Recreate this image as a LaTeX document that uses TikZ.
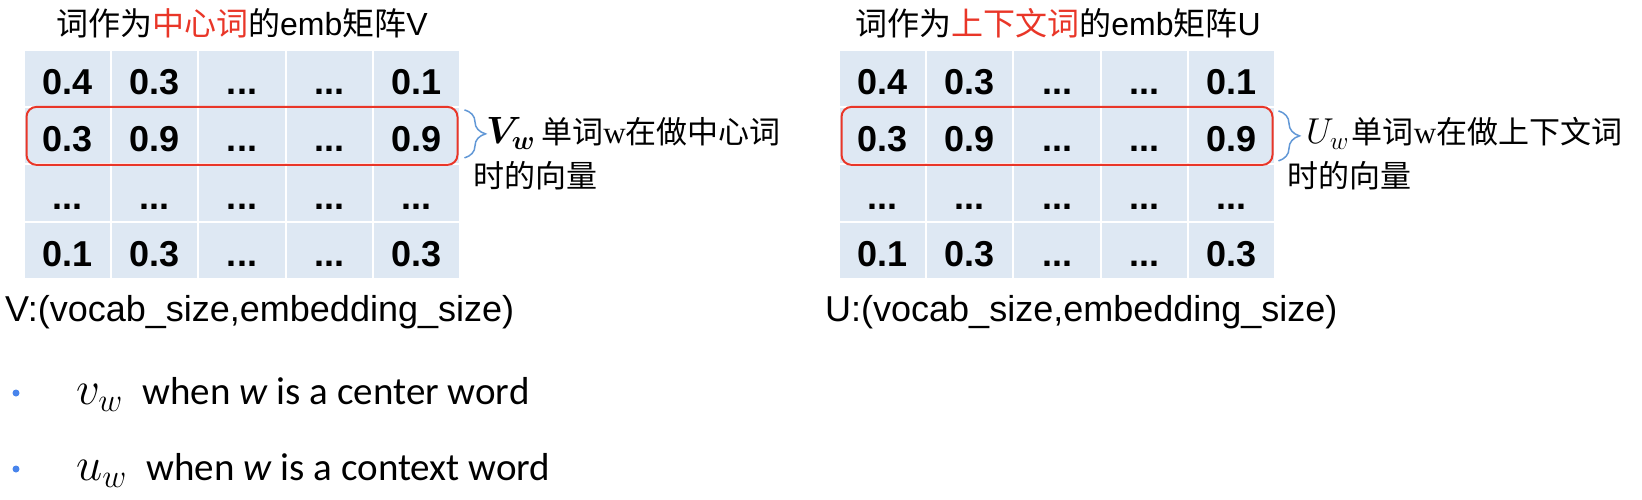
\RequirePackage{fix-cm}
\documentclass[tikz,border=0pt]{standalone}
\usepackage{fontspec}
\usepackage{bm}
\setmainfont{Liberation Sans}
\newfontfamily\cjk{Noto Sans CJK SC}
\newfontfamily\serifw{Liberation Serif}
\newfontfamily\slidefont{Carlito}
\usetikzlibrary{decorations.pathreplacing,positioning}

\definecolor{cellblue}{RGB}{222,232,243}
\definecolor{boxred}{RGB}{233,54,40}
\definecolor{braceblue}{RGB}{98,152,214}
\definecolor{dotblue}{RGB}{72,132,236}

\newcommand{\ellip}{...}
\newcommand{\bigmath}[2]{{\fontsize{#1}{#1}\selectfont$#2$}}

\tikzset{
  cell/.style={fill=cellblue, draw=white, line width=2pt, minimum width=87.2pt, minimum height=57.25pt,
    inner sep=0pt, text height=32pt, text depth=0pt, font=\fontsize{36}{36}\selectfont\bfseries},
  rowbox/.style={draw=boxred, line width=2pt, rounded corners=10pt, minimum width=431pt,
    minimum height=58pt, inner sep=0pt},
  vbrace/.style={draw=braceblue, line width=1.5pt, decorate, decoration={brace, amplitude=21pt}},
  title/.style={font=\fontsize{32}{32}\selectfont, inner sep=0pt},
  shapeline/.style={font=\fontsize{36}{36}\selectfont, inner sep=0pt, anchor=base west},
  veclabel/.style={font=\fontsize{31}{31}\selectfont, inner sep=0pt, anchor=base west},
  bullettext/.style={font=\fontsize{39}{39}\slidefont, inner sep=0pt, anchor=base west},
  bulletdot/.style={fill=dotblue, circle, inner sep=0pt, minimum size=7pt}
}

\begin{document}
\begin{tikzpicture}[x=1pt,y=-1pt]
\useasboundingbox (0,0) rectangle (1642,500);

% Matrix V: word as center word
\begin{scope}[shift={(24,50)}]
  \node[title] (titleV) at (218,-27) {{\cjk 词作为\textcolor{boxred}{中心词}的}emb{\cjk 矩阵}V};
  \foreach \r/\vals in {1/{0.4,0.3,\ellip,\ellip,0.1}, 2/{0.3,0.9,\ellip,\ellip,0.9},
                        3/{\ellip,\ellip,\ellip,\ellip,\ellip}, 4/{0.1,0.3,\ellip,\ellip,0.3}}
    \foreach \v [count=\c] in \vals
      \node[cell] (V-\r-\c) at ({87.2*\c-43.6},{57.25*\r-28.625}) {\v};
  \node[rowbox] (rowV) at (V-2-3) {};
  \draw[vbrace] ([xshift=6pt,yshift=-4pt]rowV.north east) -- ([xshift=6pt,yshift=8pt]rowV.south east);
  \node[veclabel] (labV1) at (462,94) {\bigmath{38}{\bm{V_w}}\hspace{6pt}{\cjk 单词}{\serifw w}{\cjk 在做中心词}};
  \node[veclabel] (labV2) at (449,137) {\cjk 时的向量};
  \node[shapeline] (shapeV) at (-19,271) {V:(vocab\_size,embedding\_size)};
\end{scope}

% Matrix U: word as context word
\begin{scope}[shift={(839,50)}]
  \node[title] (titleU) at (219,-27) {{\cjk 词作为\textcolor{boxred}{上下文词}的}emb{\cjk 矩阵}U};
  \foreach \r/\vals in {1/{0.4,0.3,\ellip,\ellip,0.1}, 2/{0.3,0.9,\ellip,\ellip,0.9},
                        3/{\ellip,\ellip,\ellip,\ellip,\ellip}, 4/{0.1,0.3,\ellip,\ellip,0.3}}
    \foreach \v [count=\c] in \vals
      \node[cell] (U-\r-\c) at ({87.2*\c-43.6},{57.25*\r-28.625}) {\v};
  \node[rowbox] (rowU) at (U-2-3) {};
  \draw[vbrace] ([xshift=5pt,yshift=-5pt]rowU.north east) -- ([xshift=5pt,yshift=5pt]rowU.south east);
  \node[veclabel] (labU1) at (467,94) {\bigmath{36}{U_w}\hspace{3pt}{\cjk 单词}{\serifw w}{\cjk 在做上下文词}};
  \node[veclabel] (labU2) at (448,137) {\cjk 时的向量};
  \node[shapeline] (shapeU) at (-14,271) {U:(vocab\_size,embedding\_size)};
\end{scope}

% bullets
\node[bulletdot] (dot1) at (16,393) {};
\node[bullettext] (center) at (76,404) {\bigmath{47}{v_w}\enspace when \textit{w} is a center word};
\node[bulletdot] (dot2) at (16,469) {};
\node[bullettext] (context) at (76,480) {\bigmath{47}{u_w}\enspace when \textit{w} is a context word};

\end{tikzpicture}
\end{document}
